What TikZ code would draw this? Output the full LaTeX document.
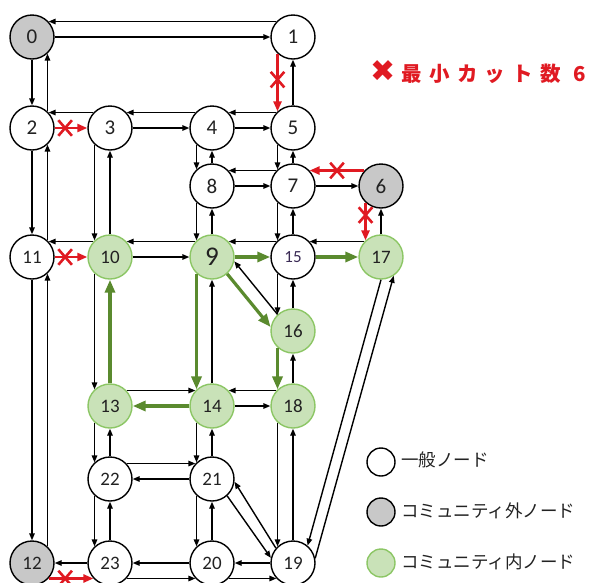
\documentclass[tikz,border=0pt]{standalone}
\usepackage{fontspec}
\setmainfont{Carlito}
\newfontfamily\cjk{Noto Sans CJK JP}
\newfontfamily\symf{DejaVu Sans}
\usetikzlibrary{arrows.meta,shapes.misc}
\definecolor{gfill}{HTML}{C9E2B8}
\definecolor{gborder}{HTML}{8CC665}
\definecolor{garrow}{HTML}{5A8A2E}
\definecolor{cutred}{HTML}{E01A22}
\definecolor{grayfill}{HTML}{C8C8C8}
\definecolor{labelc}{HTML}{222222}
\definecolor{purplec}{HTML}{3B2B55}
\begin{document}
\begin{tikzpicture}[x=1pt,y=-1pt,
 nd/.style={circle, minimum size=44pt, inner sep=0pt, draw=black, line width=1.4pt, fill=white, text=labelc, font=\fontsize{21}{21}\selectfont},
 outn/.style={nd, fill=grayfill},
 inn/.style={nd, fill=gfill, draw=gborder},
 two/.style={font=\fontsize{19}{19}\selectfont},
 e/.style={draw=black, line width=1.4pt, -{Triangle[length=7pt,width=5.5pt]}},
 ge/.style={draw=garrow, line width=3.2pt, -{Triangle[length=13pt,width=10pt]}},
 re/.style={draw=cutred, line width=2.4pt, -{Triangle[length=10pt,width=8pt]}},
 xm/.style={cross out, draw=cutred, line width=2.6pt, minimum width=11pt, minimum height=13pt, inner sep=0pt},
 legn/.style={circle, minimum size=28pt, inner sep=0pt, draw=black, line width=1.4pt, fill=white},
 legt/.style={anchor=west, font=\cjk\fontsize{17.5}{17.5}\selectfont, text=labelc, inner sep=0pt},
]
\useasboundingbox (0,0) rectangle (592,582);
% nodes
\node[outn] (n0) at (32,37) {0};
\node[nd] (n1) at (293,37) {1};
\node[nd] (n2) at (32,128) {2};
\node[nd] (n3) at (110,128) {3};
\node[nd] (n4) at (212,128) {4};
\node[nd] (n5) at (293,128) {5};
\node[nd] (n8) at (212,186) {8};
\node[nd] (n7) at (293,186) {7};
\node[outn] (n6) at (381,186) {6};
\node[nd,two] (n11) at (32,257) {11};
\node[inn,two] (n10) at (110,257) {10};
\node[inn,font=\fontsize{27}{27}\selectfont] (n9) at (212,257) {9};
\node[nd,font=\fontsize{17}{17}\selectfont,text=purplec] (n15) at (293,257) {15};
\node[inn,two] (n17) at (381,257) {17};
\node[inn,two] (n16) at (293,331) {16};
\node[inn,two] (n13) at (110,406) {13};
\node[inn,two] (n14) at (212,406) {14};
\node[inn,two] (n18) at (293,406) {18};
\node[nd,two] (n22) at (110,479) {22};
\node[nd,two] (n21) at (212,479) {21};
\node[outn,two] (n12) at (32,563) {12};
\node[nd,two] (n23) at (110,563) {23};
\node[nd,two] (n20) at (212,563) {20};
\node[nd,two] (n19) at (293,563) {19};
% top row
\draw[e] (n1.137) -- (n0.43);
\draw[e] (n0) -- (n1);
% column 0
\draw[e] (n0) -- (n2);
\draw[e] (n2.47) -- (n0.-47);
\draw[e] (n2) -- (n11);
\draw[e] (n11.47) -- (n2.-47);
\draw[e] (n11) -- (n12);
\draw[e] (n12.47) -- (n11.-47);
% row 2
\draw[e] (n3.137) -- (n2.43);
\draw[re] (n2) -- node[xm,pos=0.32] (x2) {} (n3);
\draw[e] (n4.137) -- (n3.43);
\draw[e] (n3) -- (n4);
\draw[e] (n5.137) -- (n4.43);
\draw[e] (n4) -- (n5);
% column 3
\draw[re] (n1.-133) -- node[xm,pos=0.45] (x1) {} (n5.133);
\draw[e] (n5) -- (n1);
\draw[e] (n5.-133) -- (n7.133);
\draw[e] (n7) -- (n5);
\draw[e] (n7.-133) -- (n15.133);
\draw[e] (n15) -- (n7);
\draw[e] (n15.-133) -- (n16.133);
\draw[e] (n16) -- (n15);
\draw[ge] (n16.-133) -- (n18.133);
\draw[e] (n18) -- (n16);
\draw[e] (n18.-133) -- (n19.133);
\draw[e] (n19) -- (n18);
% column 2
\draw[e] (n4.-133) -- (n8.133);
\draw[e] (n8) -- (n4);
\draw[e] (n8.-133) -- (n9.133);
\draw[e] (n9) -- (n8);
\draw[ge] (n9.-133) -- (n14.133);
\draw[e] (n14) -- (n9);
\draw[e] (n14.-133) -- (n21.133);
\draw[e] (n21) -- (n14);
\draw[e] (n21.-133) -- (n20.133);
\draw[e] (n20) -- (n21);
% column 1
\draw[e] (n3.-133) -- (n10.133);
\draw[e] (n10) -- (n3);
\draw[e] (n10.-133) -- (n13.133);
\draw[ge] (n13) -- (n10);
\draw[e] (n13.-133) -- (n22.133);
\draw[e] (n22) -- (n13);
\draw[e] (n22.-133) -- (n23.133);
\draw[e] (n23) -- (n22);
% row 7/8/6
\draw[e] (n7.137) -- (n8.43);
\draw[e] (n8) -- (n7);
\draw[re] (n6.137) -- node[xm,pos=0.5] (x3) {} (n7.43);
\draw[e] (n7) -- (n6);
% column 4
\draw[re] (n6.-133) -- node[xm,pos=0.33] (x4) {} (n17.133);
\draw[e] (n17) -- (n6);
% row 257
\draw[e] (n10.137) -- (n11.43);
\draw[re] (n11) -- node[xm,pos=0.32] (x5) {} (n10);
\draw[e] (n9.137) -- (n10.43);
\draw[e] (n10) -- (n9);
\draw[e] (n15.137) -- (n9.43);
\draw[ge] (n9) -- (n15);
\draw[e] (n17.137) -- (n15.43);
\draw[ge] (n15) -- (n17);
% diagonals 9-16
\draw[ge] (n9.-48) -- (n16.170);
\draw[e] (n16.133) -- (n9.-11);
% row 406
\draw[e] (n13.43) -- (n14.137);
\draw[ge] (n14) -- (n13);
\draw[e] (n18.137) -- (n14.43);
\draw[e] (n14) -- (n18);
% row 479
\draw[e] (n22.43) -- (n21.137);
\draw[e] (n21) -- (n22);
% bottom row
\draw[e] (n23) -- (n12);
\draw[re] (n12.-43) -- node[xm,pos=0.37] (x6) {} (n23.-137);
\draw[e] (n20) -- (n23);
\draw[e] (n23.-43) -- (n20.-137);
\draw[e] (n19) -- (n20);
\draw[e] (n20.-43) -- (n19.-137);
% diagonals 21-19, 17-19
\draw[e] (n21.-48) -- (n19.167);
\draw[e] (n19.139) -- (n21.-7);
\draw[e] (n17.-90) -- (n19.50);
\draw[e] (n19.12) -- (n17.-56);
% title
\node[anchor=west, text=cutred, inner sep=0pt] (title) at (370,72) {{\symf\fontsize{30}{30}\selectfont ✖}\hspace{6pt}{\cjk\bfseries\fontsize{20.5}{20.5}\selectfont\addfontfeature{LetterSpace=36}最小カット数 6}};
% legend
\node[legn] (l1) at (381,462) {};
\node[legn, fill=grayfill] (l2) at (381,512) {};
\node[legn, fill=gfill, draw=gborder] (l3) at (381,563) {};
\node[legt] (t1) at (401,460) {一般ノード};
\node[legt] (t2) at (401,511) {コミュニティ外ノード};
\node[legt] (t3) at (401,562) {コミュニティ内ノード};
\end{tikzpicture}
\end{document}
